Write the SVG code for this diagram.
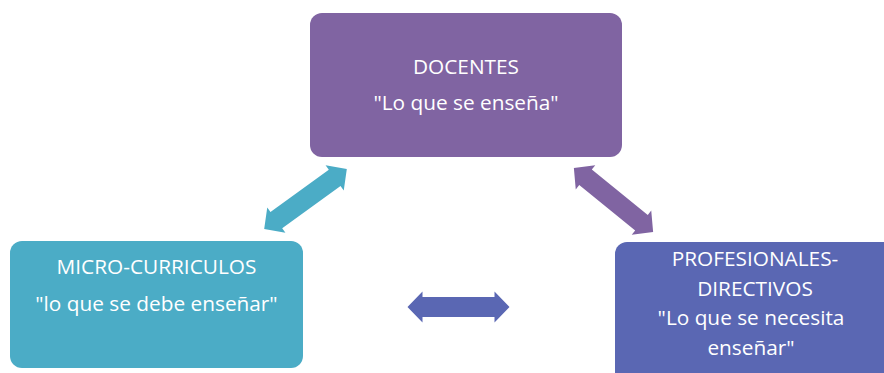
<svg xmlns="http://www.w3.org/2000/svg" xmlns:xlink="http://www.w3.org/1999/xlink" width="884" height="373" viewBox="0 0 884 373">
<style>
.t{font-family:"Open Sans","Noto Sans","Liberation Sans",sans-serif;font-size:20.8px;fill:#ffffff;text-anchor:middle}
</style>
<defs>
<polygon id="dblarrow" points="-51,0 -36,-15.5 -36,-10 36,-10 36,-15.5 51,0 36,15.5 36,10 -36,10 -36,15.5"/>
</defs>
<rect width="884" height="373" fill="#ffffff"/>
<g id="connectors">
<use xlink:href="#dblarrow" href="#dblarrow" fill="#4BACC6" transform="translate(305.5,199) rotate(-35.9)"/>
<use xlink:href="#dblarrow" href="#dblarrow" fill="#8064A2" transform="translate(613.5,200) rotate(39)"/>
<use xlink:href="#dblarrow" href="#dblarrow" fill="#5A67B3" transform="translate(458.5,307)"/>
</g>
<g id="docentes">
<rect x="310" y="13" width="312" height="144" rx="12" fill="#8064A2"/>
<text class="t" x="466" y="74">DOCENTES</text>
<text class="t" x="466" y="110">"Lo que se enseña"</text>
</g>
<g id="micro-curriculos">
<rect x="10" y="241" width="293" height="127" rx="12" fill="#4BACC6"/>
<text class="t" x="156.5" y="274">MICRO-CURRICULOS</text>
<text class="t" x="156.5" y="311">"lo que se debe enseñar"</text>
</g>
<g id="profesionales-directivos">
<rect x="615" y="242" width="290" height="150" rx="12" fill="#5A67B3"/>
<text class="t" x="755" y="266">PROFESIONALES-</text>
<text class="t" x="755" y="296">DIRECTIVOS</text>
<text class="t" x="751" y="325">"Lo que se necesita</text>
<text class="t" x="751" y="355">enseñar"</text>
</g>
</svg>
